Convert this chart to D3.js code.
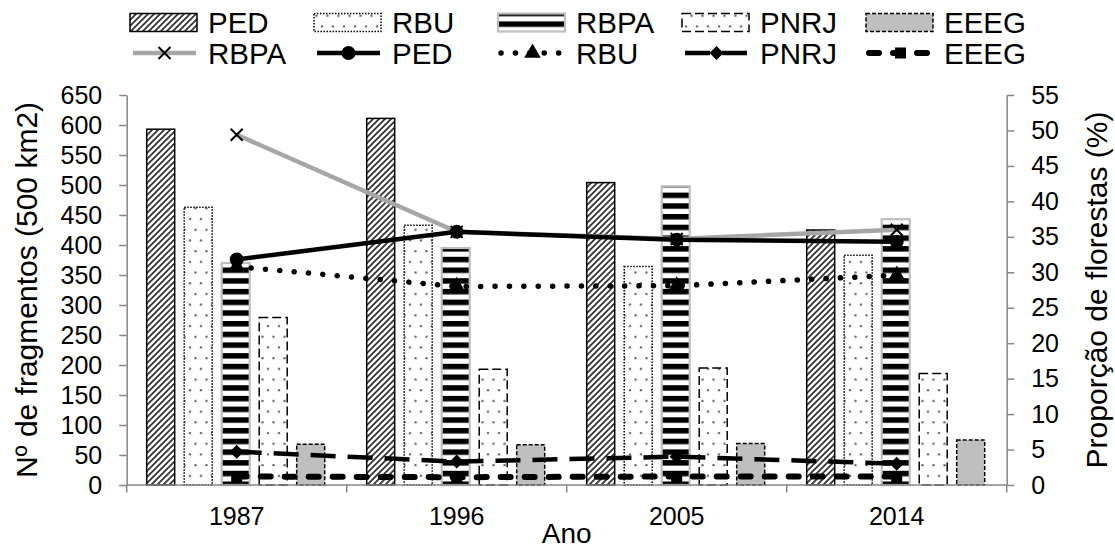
<!DOCTYPE html>
<html>
<head>
<meta charset="utf-8">
<script src="https://cdn.jsdelivr.net/npm/d3@7"></script>
<style>
  body { margin: 0; background: #fff; }
  svg text { font-family: Arial, "Liberation Sans", sans-serif; fill: #000; }
</style>
</head>
<body>
<div id="chart"></div>
<script>
// data
var years = ["1987", "1996", "2005", "2014"];
var barNames = ["PED", "RBU", "RBPA", "PNRJ", "EEEG"];
var barPED = [593, 611, 504, 425];
var barRBU = [463, 433, 364, 383];
var barRBPA = [370, 395, 498, 443];
var barPNRJ = [279, 193, 195, 186];
var barEEEG = [68, 67, 69, 75];

var lineNames = ["RBPA", "PED", "RBU", "PNRJ", "EEEG"];
var lineRBPA = [49.4, 35.7, 34.7, 36.0];
var linePED = [31.8, 35.7, 34.6, 34.3];
var lineRBU = [30.8, 28.0, 28.1, 29.6];
var linePNRJ = [4.7, 3.3, 4.0, 3.0];
var lineEEEG = [1.2, 1.1, 1.2, 1.2];

var leftTicks = d3.range(0, 651, 50);
var rightTicks = d3.range(0, 56, 5);

var barValues = [barPED, barRBU, barRBPA, barPNRJ, barEEEG];
var lineValues = [lineRBPA, linePED, lineRBU, linePNRJ, lineEEEG];

var W = 1115, H = 551;
var mLeft = 126.7, mRight = 1006.7, mTop = 95, mBottom = 485;
var axisColor = "#868686";

var svg = d3.select("#chart").append("svg")
    .attr("width", W)
    .attr("height", H);

// patterns
var defs = svg.append("defs");

var pHatch = defs.append("pattern").attr("id", "hatch")
    .attr("patternUnits", "userSpaceOnUse").attr("width", 6).attr("height", 6);
pHatch.append("rect").attr("width", 6).attr("height", 6).attr("fill", "#fff");
pHatch.append("path").attr("d", "M-1,7 L7,-1 M-4,4 L4,-4 M2,10 L10,2")
    .attr("stroke", "#333").attr("stroke-width", 1.8);

var pDots = defs.append("pattern").attr("id", "dots")
    .attr("patternUnits", "userSpaceOnUse").attr("width", 11).attr("height", 21.4);
pDots.append("rect").attr("width", 11).attr("height", 21.4).attr("fill", "#fff");
pDots.append("circle").attr("cx", 3).attr("cy", 5).attr("r", 1.2).attr("fill", "#666");
pDots.append("circle").attr("cx", 8.5).attr("cy", 15.7).attr("r", 1.2).attr("fill", "#666");

var pDotsB = defs.append("pattern").attr("id", "dotsb")
    .attr("patternUnits", "userSpaceOnUse").attr("width", 11).attr("height", 21.4);
pDotsB.append("rect").attr("width", 11).attr("height", 21.4).attr("fill", "#fff");
pDotsB.append("circle").attr("cx", 4).attr("cy", 5).attr("r", 1.2).attr("fill", "#666");
pDotsB.append("circle").attr("cx", 9.5).attr("cy", 15.7).attr("r", 1.2).attr("fill", "#666");

var pStripes = defs.append("pattern").attr("id", "stripes")
    .attr("patternUnits", "userSpaceOnUse").attr("width", 10).attr("height", 10.7);
pStripes.append("rect").attr("width", 10).attr("height", 10.7).attr("fill", "#fff");
pStripes.append("rect").attr("y", 0).attr("width", 10).attr("height", 5.5).attr("fill", "#000");

var barStyle = {
    PED:  { fill: "url(#hatch)", stroke: "#000", dash: null, sw: 1.5 },
    RBU:  { fill: "url(#dots)", stroke: "#000", dash: "1.5 1.5", sw: 1.5 },
    RBPA: { fill: "url(#stripes)", stroke: "#bfbfbf", dash: null, sw: 2.2 },
    PNRJ: { fill: "url(#dotsb)", stroke: "#000", dash: "9 4", sw: 1.5 },
    EEEG: { fill: "#bfbfbf", stroke: "#000", dash: "4 2", sw: 1.5 }
};

var lineStyle = {
    RBPA: { color: "#a6a6a6", dash: null, sw: 4.5, cap: "butt", marker: "x" },
    PED:  { color: "#000", dash: null, sw: 4.5, cap: "butt", marker: "circle" },
    RBU:  { color: "#000", dash: "0.1 14.3", sw: 5.5, cap: "round", marker: "triangle" },
    PNRJ: { color: "#000", dash: "25 12", sw: 4.5, cap: "butt", marker: "diamond" },
    EEEG: { color: "#000", dash: "10 14", sw: 6, cap: "round", marker: "square" }
};

// scales
var x = d3.scaleBand().domain(years).range([mLeft, mRight]).padding(0);
var xSub = d3.scaleBand().domain(barNames).range([20, 198]).paddingInner(0.2533).paddingOuter(0);
var yL = d3.scaleLinear().domain([0, 650]).range([mBottom, mTop]);
var yR = d3.scaleLinear().domain([0, 55]).range([mBottom, mTop]);

// bars
barNames.forEach(function (name, si) {
    var st = barStyle[name];
    svg.append("g").selectAll("rect")
        .data(barValues[si]).enter()
        .append("rect")
        .attr("x", function (d, i) { return x(years[i]) + xSub(name); })
        .attr("y", function (d) { return yL(d); })
        .attr("width", xSub.bandwidth())
        .attr("height", function (d) { return yL(0) - yL(d); })
        .attr("fill", st.fill)
        .attr("stroke", st.stroke)
        .attr("stroke-width", st.sw)
        .attr("stroke-dasharray", st.dash);
});

// axes
var gL = svg.append("g").attr("transform", "translate(" + mLeft + ",0)")
    .call(d3.axisLeft(yL).tickValues(leftTicks).tickSize(7.5).tickPadding(17).tickSizeOuter(0));
var gR = svg.append("g").attr("transform", "translate(" + mRight + ",0)")
    .call(d3.axisRight(yR).tickValues(rightTicks).tickSize(7.5).tickPadding(17).tickSizeOuter(0));
[gL, gR].forEach(function (g) {
    g.select(".domain").attr("stroke", axisColor).attr("stroke-width", 1.5);
    g.selectAll(".tick line").attr("stroke", axisColor).attr("stroke-width", 1.5);
    g.selectAll(".tick text").style("font-size", "25px")
        .style("font-family", "Arial, 'Liberation Sans', sans-serif").attr("fill", "#000");
});

var gX = svg.append("g").attr("transform", "translate(0," + mBottom + ")");
gX.append("line").attr("x1", mLeft).attr("x2", mRight).attr("y1", 0).attr("y2", 0)
    .attr("stroke", axisColor).attr("stroke-width", 1.5);
gX.selectAll(".bt").data(years.concat(["end"])).enter().append("line")
    .attr("x1", function (d, i) { return i < years.length ? x(d) : mRight; })
    .attr("x2", function (d, i) { return i < years.length ? x(d) : mRight; })
    .attr("y1", 0).attr("y2", 7.5)
    .attr("stroke", axisColor).attr("stroke-width", 1.5);
gX.selectAll("text").data(years).enter().append("text")
    .attr("x", function (d) { return x(d) + x.bandwidth() / 2; })
    .attr("y", 40)
    .attr("text-anchor", "middle")
    .style("font-size", "25px")
    .text(function (d) { return d; });

// axis titles
svg.append("text").attr("x", (mLeft + mRight) / 2).attr("y", 543)
    .attr("text-anchor", "middle").style("font-size", "28px").text("Ano");
svg.append("text").attr("transform", "translate(37," + (mTop + mBottom) / 2 + ") rotate(-90)")
    .attr("text-anchor", "middle").style("font-size", "30px").text("Nº de fragmentos (500 km2)");
svg.append("text").attr("transform", "translate(1107," + (mTop + mBottom) / 2 + ") rotate(-90)")
    .attr("text-anchor", "middle").style("font-size", "30px").text("Proporção de florestas (%)");

// markers
function drawMarker(g, type, cx, cy) {
    if (type === "x") {
        g.append("path")
            .attr("d", "M" + (cx - 6) + "," + (cy - 6) + "L" + (cx + 6) + "," + (cy + 6) +
                "M" + (cx - 6) + "," + (cy + 6) + "L" + (cx + 6) + "," + (cy - 6))
            .attr("stroke", "#000").attr("stroke-width", 2);
    } else if (type === "circle") {
        g.append("circle").attr("cx", cx).attr("cy", cy).attr("r", 7).attr("fill", "#000");
    } else if (type === "triangle") {
        g.append("path").attr("transform", "translate(" + cx + "," + cy + ")")
            .attr("d", d3.symbol().type(d3.symbolTriangle).size(120)()).attr("fill", "#000");
    } else if (type === "diamond") {
        g.append("path").attr("transform", "translate(" + cx + "," + cy + ")")
            .attr("d", "M0,-7L7,0L0,7L-7,0Z").attr("fill", "#000");
    } else if (type === "square") {
        g.append("rect").attr("x", cx - 5.5).attr("y", cy - 5.5).attr("width", 11).attr("height", 11)
            .attr("fill", "#000");
    }
}

// lines
var line = d3.line()
    .x(function (d, i) { return x(years[i]) + x.bandwidth() / 2; })
    .y(function (d) { return yR(d); });

lineNames.forEach(function (name, si) {
    var st = lineStyle[name];
    var g = svg.append("g");
    g.append("path")
        .attr("d", line(lineValues[si]))
        .attr("fill", "none")
        .attr("stroke", st.color)
        .attr("stroke-width", st.sw)
        .attr("stroke-dasharray", st.dash)
        .attr("stroke-linecap", st.cap);
    lineValues[si].forEach(function (v, i) {
        drawMarker(g, st.marker, x(years[i]) + x.bandwidth() / 2, yR(v));
    });
});

// legend
var legX = [130, 314, 498, 682, 866];
var row1 = 22.5, row2 = 53;
var leg = svg.append("g");
barNames.forEach(function (name, i) {
    var st = barStyle[name];
    leg.append("rect").attr("x", legX[i]).attr("y", row1 - 9).attr("width", 67).attr("height", 18)
        .attr("fill", st.fill).attr("stroke", st.stroke).attr("stroke-width", st.sw)
        .attr("stroke-dasharray", st.dash);
    leg.append("text").attr("x", legX[i] + 78).attr("y", row1 + 10.5)
        .style("font-size", "29.5px").text(name);
});
lineNames.forEach(function (name, i) {
    var st = lineStyle[name];
    var g = leg.append("g");
    g.append("line").attr("x1", legX[i] + 3).attr("x2", legX[i] + 66).attr("y1", row2).attr("y2", row2)
        .attr("stroke", st.color).attr("stroke-width", st.sw)
        .attr("stroke-dasharray", st.dash).attr("stroke-linecap", st.cap);
    drawMarker(g, st.marker, legX[i] + 34.5, row2);
    leg.append("text").attr("x", legX[i] + 78).attr("y", row2 + 10.5)
        .style("font-size", "29.5px").text(name);
});
</script>
</body>
</html>
